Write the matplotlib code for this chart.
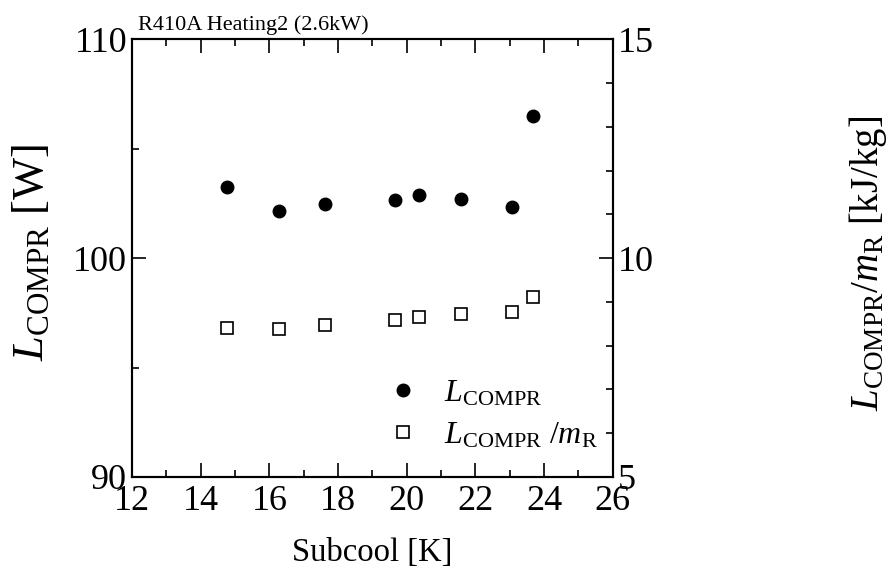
import matplotlib
matplotlib.use('Agg')
import matplotlib.pyplot as plt
from matplotlib.ticker import MultipleLocator

# data
subcool = [14.76, 16.29, 17.63, 19.67, 20.37, 21.57, 23.07, 23.68]
l_compr = [103.26, 102.16, 102.47, 102.64, 102.88, 102.71, 102.33, 106.49]
l_per_m = [8.40, 8.38, 8.48, 8.58, 8.65, 8.72, 8.77, 9.11]

plt.rcParams['font.family'] = ['Liberation Serif', 'DejaVu Serif']
plt.rcParams['mathtext.fontset'] = 'custom'
plt.rcParams['mathtext.rm'] = 'Liberation Serif'
plt.rcParams['mathtext.it'] = 'Liberation Serif:italic'

W, H = 892, 574
fig = plt.figure(figsize=(W / 100, H / 100), dpi=100)
ax = fig.add_axes([0.148, 0.169, 0.539, 0.7625])
ax2 = ax.twinx()

p1, = ax.plot(subcool, l_compr, 'o', color='black', markersize=9,
              label=r'$L_{\rm COMPR}$')
p2, = ax2.plot(subcool, l_per_m, 's', mfc='white', mec='black', mew=1.2,
               markersize=8, label=r'$L_{\rm COMPR}\ /m_{\rm R}$')

ax.set_xlim(12, 26)
ax.set_ylim(90, 110)
ax2.set_ylim(5, 15)

ax.xaxis.set_major_locator(MultipleLocator(2))
ax.xaxis.set_minor_locator(MultipleLocator(1))
ax.yaxis.set_major_locator(MultipleLocator(10))
ax.yaxis.set_minor_locator(MultipleLocator(5))
ax2.yaxis.set_major_locator(MultipleLocator(5))
ax2.yaxis.set_minor_locator(MultipleLocator(1))

ax.tick_params(which='both', direction='in', top=True, right=False,
               labelsize=26, width=1.2)
ax.tick_params(which='major', length=10)
ax.tick_params(which='minor', length=5)
ax2.tick_params(which='both', direction='in', labelsize=26, width=1.2)
ax2.tick_params(which='major', length=10)
ax2.tick_params(which='minor', length=5)
ax.tick_params(axis='x', pad=6)

for a in (ax, ax2):
    for s in a.spines.values():
        s.set_linewidth(1.5)

ax.set_xlabel('Subcool [K]', fontsize=23.5, labelpad=14)

# axis titles placed in figure coords
fig.text(32 / W, 1 - 253 / H, r'$L_{\rm COMPR}$ [W]', fontsize=32,
         rotation=90, ha='center', va='center')
fig.text(868 / W, 1 - 263 / H, r'$L_{\rm COMPR}/m_{\rm R}$ [kJ/kg]',
         fontsize=28, rotation=90, ha='center', va='center')

fig.text(138 / W, 1 - 30 / H, 'R410A Heating2 (2.6kW)', fontsize=16,
         ha='left', va='baseline')

ax.legend([p1, p2], [p1.get_label(), p2.get_label()], loc='lower right',
          bbox_to_anchor=(0.996, 0.032), frameon=False, fontsize=23,
          handlelength=1.0, handletextpad=0.78, labelspacing=0.38,
          borderaxespad=0)

fig.savefig('out.png', dpi=100)
